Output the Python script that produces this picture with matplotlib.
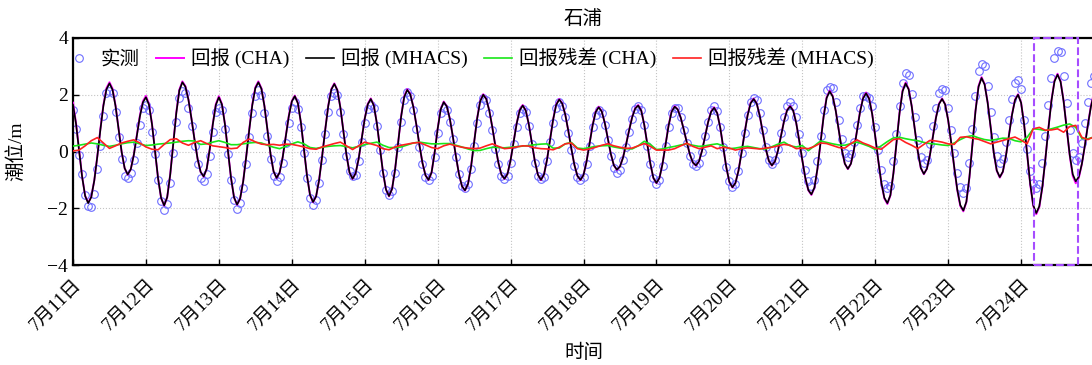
import numpy as np
import pandas as pd
import matplotlib
matplotlib.use("Agg")
import matplotlib.pyplot as plt
import matplotlib.dates as mdates
from matplotlib.patches import Rectangle
from matplotlib.ticker import FuncFormatter

plt.rcParams['font.family'] = ['Liberation Serif', 'Noto Sans CJK SC']
plt.rcParams['axes.unicode_minus'] = True

# ---------------- data (hourly from 2021-07-11 00:00) ----------------
title = "石浦"
start_time = "2021-07-11 00:00"
tick_days = list(range(11, 25))

hindcast_mhacs = [
    1.65, 0.97, 0.04, -0.89, -1.57, -1.82, -1.61, -1.03, -0.18, 0.76, 1.61, 2.19,
    2.40, 2.18, 1.60, 0.80, -0.01, -0.59, -0.81, -0.63, -0.13, 0.55, 1.23, 1.73,
    1.91, 1.65, 0.96, 0.00, -0.95, -1.64, -1.90, -1.61, -0.81, 0.27, 1.36, 2.15,
    2.44, 2.28, 1.82, 1.15, 0.41, -0.26, -0.72, -0.88, -0.61, 0.08, 0.95, 1.64,
    1.91, 1.66, 0.96, 0.02, -0.93, -1.62, -1.87, -1.66, -1.06, -0.19, 0.76, 1.63,
    2.23, 2.44, 2.21, 1.60, 0.75, -0.09, -0.70, -0.93, -0.74, -0.21, 0.51, 1.23,
    1.76, 1.95, 1.70, 1.02, 0.08, -0.85, -1.53, -1.78, -1.58, -1.00, -0.16, 0.76,
    1.60, 2.18, 2.38, 2.16, 1.54, 0.71, -0.13, -0.74, -0.96, -0.77, -0.26, 0.45,
    1.15, 1.66, 1.85, 1.62, 0.99, 0.14, -0.72, -1.34, -1.57, -1.32, -0.63, 0.30,
    1.24, 1.92, 2.17, 2.01, 1.57, 0.94, 0.23, -0.40, -0.84, -1.00, -0.74, -0.05,
    0.79, 1.48, 1.74, 1.59, 1.16, 0.53, -0.16, -0.79, -1.22, -1.37, -1.14, -0.53,
    0.32, 1.16, 1.77, 2.00, 1.85, 1.44, 0.85, 0.19, -0.40, -0.82, -0.96, -0.79,
    -0.31, 0.33, 0.98, 1.45, 1.62, 1.44, 0.96, 0.31, -0.35, -0.82, -1.00, -0.81,
    -0.29, 0.42, 1.12, 1.64, 1.83, 1.69, 1.30, 0.73, 0.10, -0.47, -0.86, -1.00,
    -0.83, -0.36, 0.28, 0.92, 1.39, 1.56, 1.41, 1.01, 0.46, -0.09, -0.49, -0.64,
    -0.53, -0.22, 0.24, 0.74, 1.20, 1.51, 1.62, 1.44, 0.94, 0.25, -0.43, -0.93,
    -1.11, -0.93, -0.44, 0.24, 0.91, 1.40, 1.58, 1.48, 1.19, 0.77, 0.32, -0.10,
    -0.39, -0.49, -0.35, 0.02, 0.53, 1.03, 1.40, 1.54, 1.35, 0.84, 0.14, -0.56,
    -1.07, -1.26, -1.11, -0.68, -0.05, 0.64, 1.27, 1.70, 1.85, 1.69, 1.26, 0.68,
    0.09, -0.33, -0.49, -0.35, 0.03, 0.55, 1.07, 1.45, 1.59, 1.44, 1.01, 0.38,
    -0.30, -0.93, -1.36, -1.51, -1.27, -0.60, 0.31, 1.21, 1.88, 2.12, 1.94, 1.44,
    0.75, 0.07, -0.43, -0.61, -0.43, 0.06, 0.72, 1.39, 1.87, 2.05, 1.86, 1.32,
    0.54, -0.31, -1.09, -1.63, -1.82, -1.54, -0.76, 0.29, 1.35, 2.12, 2.40, 2.19,
    1.60, 0.80, 0.01, -0.58, -0.79, -0.61, -0.13, 0.53, 1.19, 1.67, 1.85, 1.66,
    1.11, 0.32, -0.55, -1.34, -1.89, -2.08, -1.77, -0.91, 0.26, 1.42, 2.28, 2.59,
    2.36, 1.72, 0.84, -0.03, -0.67, -0.90, -0.71, -0.17, 0.55, 1.28, 1.81, 2.00,
    1.72, 0.96, -0.09, -1.13, -1.89, -2.17, -1.93, -1.25, -0.27, 0.81, 1.79, 2.47,
    2.71, 2.46, 1.77, 0.83, -0.11, -0.80, -1.05, -0.89, -0.44, 0.21, 0.94, 1.59,
    2.04,
]

hindcast_cha = [
    1.72, 1.00, 0.05, -0.88, -1.56, -1.80, -1.60, -1.02, -0.17, 0.78, 1.64, 2.23,
    2.44, 2.22, 1.62, 0.81, -0.01, -0.59, -0.82, -0.63, -0.12, 0.57, 1.26, 1.77,
    1.96, 1.68, 0.97, 0.00, -0.95, -1.64, -1.91, -1.61, -0.80, 0.29, 1.38, 2.18,
    2.47, 2.30, 1.83, 1.15, 0.41, -0.26, -0.72, -0.89, -0.61, 0.09, 0.97, 1.67,
    1.95, 1.68, 0.97, 0.02, -0.93, -1.62, -1.88, -1.66, -1.05, -0.18, 0.78, 1.66,
    2.26, 2.47, 2.23, 1.61, 0.75, -0.09, -0.70, -0.94, -0.74, -0.20, 0.52, 1.25,
    1.78, 1.97, 1.71, 1.02, 0.08, -0.85, -1.53, -1.79, -1.58, -1.00, -0.15, 0.77,
    1.62, 2.20, 2.40, 2.17, 1.54, 0.71, -0.13, -0.74, -0.97, -0.77, -0.26, 0.46,
    1.16, 1.68, 1.87, 1.63, 0.99, 0.14, -0.72, -1.34, -1.58, -1.32, -0.62, 0.31,
    1.26, 1.95, 2.20, 2.03, 1.58, 0.94, 0.23, -0.40, -0.84, -1.01, -0.74, -0.04,
    0.80, 1.50, 1.76, 1.60, 1.16, 0.53, -0.16, -0.79, -1.22, -1.38, -1.14, -0.52,
    0.33, 1.17, 1.79, 2.02, 1.86, 1.44, 0.85, 0.19, -0.40, -0.82, -0.97, -0.79,
    -0.30, 0.34, 0.99, 1.47, 1.64, 1.45, 0.96, 0.31, -0.35, -0.82, -1.01, -0.81,
    -0.28, 0.43, 1.13, 1.66, 1.85, 1.70, 1.30, 0.73, 0.10, -0.47, -0.86, -1.01,
    -0.83, -0.35, 0.29, 0.93, 1.41, 1.58, 1.42, 1.01, 0.46, -0.09, -0.49, -0.65,
    -0.53, -0.21, 0.25, 0.75, 1.21, 1.53, 1.64, 1.45, 0.94, 0.25, -0.43, -0.94,
    -1.12, -0.93, -0.43, 0.25, 0.92, 1.42, 1.60, 1.49, 1.19, 0.77, 0.32, -0.10,
    -0.39, -0.50, -0.35, 0.03, 0.54, 1.04, 1.42, 1.56, 1.36, 0.84, 0.14, -0.56,
    -1.08, -1.27, -1.11, -0.67, -0.04, 0.65, 1.29, 1.72, 1.87, 1.70, 1.26, 0.68,
    0.09, -0.33, -0.50, -0.35, 0.04, 0.56, 1.08, 1.47, 1.61, 1.45, 1.01, 0.38,
    -0.30, -0.94, -1.37, -1.53, -1.28, -0.60, 0.32, 1.23, 1.91, 2.15, 1.96, 1.45,
    0.75, 0.07, -0.43, -0.62, -0.43, 0.07, 0.73, 1.41, 1.89, 2.08, 1.88, 1.33,
    0.54, -0.31, -1.10, -1.65, -1.85, -1.55, -0.76, 0.30, 1.37, 2.15, 2.43, 2.21,
    1.61, 0.80, 0.01, -0.58, -0.80, -0.61, -0.12, 0.54, 1.21, 1.69, 1.87, 1.67,
    1.11, 0.32, -0.56, -1.36, -1.92, -2.11, -1.79, -0.91, 0.27, 1.44, 2.31, 2.62,
    2.38, 1.73, 0.84, -0.03, -0.68, -0.92, -0.72, -0.16, 0.56, 1.30, 1.83, 2.02,
    1.73, 0.96, -0.10, -1.15, -1.92, -2.21, -1.96, -1.26, -0.26, 0.83, 1.81, 2.50,
    2.74, 2.48, 1.78, 0.82, -0.13, -0.86, -1.12, -0.93, -0.45, 0.22, 0.96, 1.62,
    2.07,
]

observed = [
    1.45, 0.80, -0.12, -0.80, -1.55, -1.92, -1.97, -1.50, -0.60, 0.20, 1.25, 2.05,
    2.12, 2.05, 1.40, 0.50, -0.25, -0.85, -0.95, -0.75, -0.30, 0.30, 0.95, 1.55,
    1.65, 1.45, 0.70, -0.10, -1.00, -1.75, -2.05, -1.85, -1.10, -0.05, 1.05, 1.90,
    2.12, 2.05, 1.55, 0.90, 0.20, -0.45, -0.95, -1.05, -0.80, -0.15, 0.70, 1.40,
    1.55, 1.45, 0.80, -0.10, -1.00, -1.70, -2.02, -1.80, -1.30, -0.45, 0.50, 1.35,
    1.95, 2.15, 1.98, 1.35, 0.55, -0.25, -0.85, -1.05, -0.90, -0.40, 0.30, 1.00,
    1.55, 1.75, 1.50, 0.85, -0.05, -0.95, -1.65, -1.90, -1.72, -1.10, -0.30, 0.60,
    1.40, 1.95, 2.05, 1.98, 1.40, 0.60, -0.15, -0.70, -0.85, -0.82, -0.35, 0.35,
    1.00, 1.50, 1.65, 1.55, 0.90, 0.05, -0.75, -1.35, -1.52, -1.40, -0.75, 0.15,
    1.05, 1.80, 2.08, 1.95, 1.45, 0.80, 0.15, -0.45, -0.90, -1.00, -0.85, -0.20,
    0.65, 1.35, 1.55, 1.45, 1.05, 0.45, -0.20, -0.80, -1.20, -1.27, -1.15, -0.60,
    0.20, 1.00, 1.65, 1.88, 1.80, 1.35, 0.75, 0.10, -0.45, -0.85, -0.98, -0.85,
    -0.40, 0.25, 0.85, 1.35, 1.50, 1.40, 0.90, 0.25, -0.40, -0.85, -0.98, -0.90,
    -0.35, 0.35, 1.00, 1.55, 1.75, 1.62, 1.22, 0.65, 0.05, -0.50, -0.90, -1.02,
    -0.90, -0.45, 0.20, 0.85, 1.30, 1.45, 1.35, 0.95, 0.40, -0.15, -0.58, -0.75,
    -0.65, -0.30, 0.15, 0.70, 1.15, 1.50, 1.60, 1.45, 0.95, 0.20, -0.45, -0.95,
    -1.14, -1.00, -0.50, 0.20, 0.85, 1.35, 1.55, 1.52, 1.20, 0.75, 0.30, -0.15,
    -0.45, -0.52, -0.40, 0.00, 0.55, 1.05, 1.45, 1.60, 1.42, 0.88, 0.15, -0.55,
    -1.05, -1.24, -1.15, -0.70, -0.05, 0.65, 1.30, 1.75, 1.90, 1.80, 1.35, 0.75,
    0.15, -0.30, -0.45, -0.30, 0.10, 0.65, 1.20, 1.60, 1.74, 1.62, 1.20, 0.60,
    -0.05, -0.65, -1.05, -1.20, -1.00, -0.35, 0.55, 1.45, 2.15, 2.28, 2.25, 1.75,
    1.10, 0.45, -0.05, -0.20, -0.10, 0.35, 0.95, 1.55, 1.95, 1.97, 1.90, 1.60,
    0.85, 0.05, -0.65, -1.15, -1.30, -1.20, -0.35, 0.60, 1.60, 2.40, 2.75, 2.68,
    2.04, 1.20, 0.40, -0.20, -0.42, -0.30, 0.25, 0.90, 1.55, 2.05, 2.22, 2.15,
    1.55, 0.75, -0.05, -0.75, -1.25, -1.45, -1.30, -0.40, 0.80, 1.95, 2.85, 3.08,
    3.00, 2.30, 1.40, 0.50, -0.15, -0.42, -0.25, 0.35, 1.10, 1.85, 2.40, 2.53,
    2.20, 1.10, 0.10, -0.70, -1.10, -1.30, -1.15, -0.40, 0.55, 1.65, 2.60, 3.30,
    3.55, 3.52, 2.65, 1.70, 0.75, -0.05, -0.30, -0.20, 0.30, 1.00, 1.75, 2.40,
    2.65,
]

# residuals, every 2 hours
residual_cha = [
    0.19, 0.22, 0.26, 0.30, 0.27, 0.22, 0.18, 0.22, 0.27, 0.31, 0.33, 0.27,
    0.21, 0.23, 0.26, 0.28, 0.30, 0.33, 0.36, 0.38, 0.37, 0.25, 0.27, 0.33,
    0.38, 0.32, 0.24, 0.24, 0.27, 0.30, 0.32, 0.30, 0.22, 0.15, 0.10, 0.18,
    0.27, 0.34, 0.27, 0.14, 0.11, 0.15, 0.18, 0.20, 0.21, 0.17, 0.13, 0.18,
    0.24, 0.29, 0.33, 0.22, 0.14, 0.14, 0.16, 0.23, 0.30, 0.33, 0.30, 0.27,
    0.27, 0.28, 0.28, 0.22, 0.16, 0.09, 0.03, 0.04, 0.10, 0.15, 0.14, 0.13,
    0.15, 0.17, 0.19, 0.21, 0.24, 0.26, 0.27, 0.12, 0.12, 0.27, 0.32, 0.12,
    0.10, 0.14, 0.18, 0.20, 0.21, 0.16, 0.12, 0.10, 0.09, 0.20, 0.36, 0.25,
    0.07, 0.09, 0.14, 0.18, 0.23, 0.27, 0.22, 0.18, 0.20, 0.24, 0.27, 0.20,
    0.10, 0.12, 0.16, 0.18, 0.14, 0.10, 0.09, 0.17, 0.26, 0.33, 0.20, 0.16,
    0.21, 0.03, 0.20, 0.37, 0.32, 0.27, 0.23, 0.22, 0.28, 0.33, 0.26, 0.18,
    0.07, 0.20, 0.35, 0.48, 0.50, 0.45, 0.41, 0.38, 0.32, 0.28, 0.26, 0.23,
    0.21, 0.30, 0.42, 0.52, 0.56, 0.48, 0.42, 0.39, 0.43, 0.47, 0.46, 0.38,
    0.34, 0.50, 0.80, 0.78, 0.74, 0.80, 0.86, 0.93, 0.97, 0.85, 0.46, 0.45,
    0.51,
]

residual_mhacs = [
    0.02, 0.05, 0.20, 0.38, 0.49, 0.30, 0.11, 0.20, 0.30, 0.36, 0.41, 0.30,
    0.16, 0.08, 0.06, 0.25, 0.42, 0.45, 0.30, 0.22, 0.32, 0.38, 0.28, 0.20,
    0.17, 0.14, 0.10, 0.12, 0.32, 0.44, 0.34, 0.26, 0.24, 0.25, 0.22, 0.26,
    0.25, 0.21, 0.16, 0.10, 0.08, 0.16, 0.22, 0.28, 0.33, 0.20, 0.07, 0.20,
    0.33, 0.27, 0.21, 0.10, 0.06, 0.16, 0.22, 0.26, 0.30, 0.32, 0.23, 0.14,
    0.10, 0.20, 0.26, 0.20, 0.15, 0.12, 0.10, 0.12, 0.20, 0.27, 0.18, 0.10,
    0.12, 0.16, 0.20, 0.19, 0.13, 0.10, 0.09, 0.06, 0.15, 0.27, 0.30, 0.10,
    0.05, 0.09, 0.15, 0.22, 0.27, 0.20, 0.15, 0.11, 0.12, 0.20, 0.28, 0.18,
    0.05, 0.05, 0.05, 0.10, 0.20, 0.29, 0.18, 0.10, 0.15, 0.20, 0.10, 0.15,
    0.12, 0.05, 0.10, 0.13, 0.11, 0.09, 0.12, 0.15, 0.20, 0.25, 0.22, 0.10,
    0.12, 0.10, 0.18, 0.30, 0.28, 0.21, 0.14, 0.12, 0.28, 0.41, 0.30, 0.22,
    0.12, 0.08, 0.25, 0.42, 0.45, 0.32, 0.22, 0.10, 0.25, 0.39, 0.37, 0.33,
    0.27, 0.25, 0.50, 0.52, 0.47, 0.43, 0.35, 0.27, 0.33, 0.39, 0.45, 0.51,
    0.40, 0.27, 0.80, 0.85, 0.75, 0.76, 0.80, 0.68, 0.88, 0.92, 0.50, 0.42,
    0.52,
]

legend_labels = ["实测", "回报 (CHA)", "回报 (MHACS)", "回报残差 (CHA)", "回报残差 (MHACS)"]
highlight_hours = (316.3, 330.7)   # dashed box
x_label = "时间"
y_label = "潮位/m"

# ---------------- plotting ----------------
t0 = pd.Timestamp(start_time)
t_hour = pd.date_range(t0, periods=len(observed), freq="h")
t_res = pd.date_range(t0, periods=len(residual_mhacs), freq="2h")

FS = 14
fig = plt.figure(figsize=(10.92, 3.65), dpi=100)
ax = fig.add_axes([73 / 1092, 100 / 365, 1021 / 1092, 227 / 365])

ax.plot(t_hour, observed, linestyle="none", marker="o", mfc="none",
        mec="#6e6eff", ms=5.5, mew=0.8, label=legend_labels[0], zorder=2)
ax.plot(t_hour, hindcast_cha, color="#ff00ff", lw=1.4, label=legend_labels[1], zorder=3)
ax.plot(t_hour, hindcast_mhacs, color="black", lw=1.2, label=legend_labels[2], zorder=4)
ax.plot(t_res, residual_cha, color="#19e619", lw=1.2, label=legend_labels[3], zorder=5)
ax.plot(t_res, residual_mhacs, color="#ff2020", lw=1.2, label=legend_labels[4], zorder=6)

ax.set_xlim(t0, t0 + pd.Timedelta(days=14))
ax.set_ylim(-4, 4)
ax.set_yticks([-4, -2, 0, 2, 4])
ax.set_xticks([mdates.date2num(t0.replace(day=d)) for d in tick_days])

def fmt(x, pos):
    d = mdates.num2date(x)
    return f"{d.month}月{d.day}日"

ax.xaxis.set_major_formatter(FuncFormatter(fmt))
ax.tick_params(axis="both", direction="in", length=4, width=1, labelsize=FS)
ax.tick_params(axis="x", pad=8, labelsize=13.5)
for lbl in ax.get_xticklabels():
    lbl.set_rotation(45)
    lbl.set_ha("right")
    lbl.set_va("top")
    lbl.set_rotation_mode("anchor")

ax.grid(True, linestyle=":", color="#c4c4c4", lw=0.8)
ax.set_axisbelow(True)
for s in ax.spines.values():
    s.set_linewidth(1.6)

x0 = mdates.date2num(t0 + pd.Timedelta(hours=highlight_hours[0]))
x1 = mdates.date2num(t0 + pd.Timedelta(hours=highlight_hours[1]))
ax.add_patch(Rectangle((x0, -4), x1 - x0, 8, fill=False, ec="#a64dff",
                       ls="--", lw=1.5, zorder=10, clip_on=False))

ax.set_title(title, fontsize=FS, pad=10)
ax.set_xlabel(x_label, fontsize=FS)
ax.xaxis.set_label_coords(0.5, -0.345)
ax.set_ylabel(y_label, fontsize=FS)
ax.yaxis.set_label_coords(-0.047, 0.5)

ax.legend(loc="upper left", bbox_to_anchor=(-0.017, 1.0), ncol=5, frameon=False,
          fontsize=FS, handlelength=1.45, handletextpad=0.35, columnspacing=0.85,
          borderaxespad=0.3, borderpad=0.2, numpoints=1)

fig.savefig("out.png", dpi=100)
